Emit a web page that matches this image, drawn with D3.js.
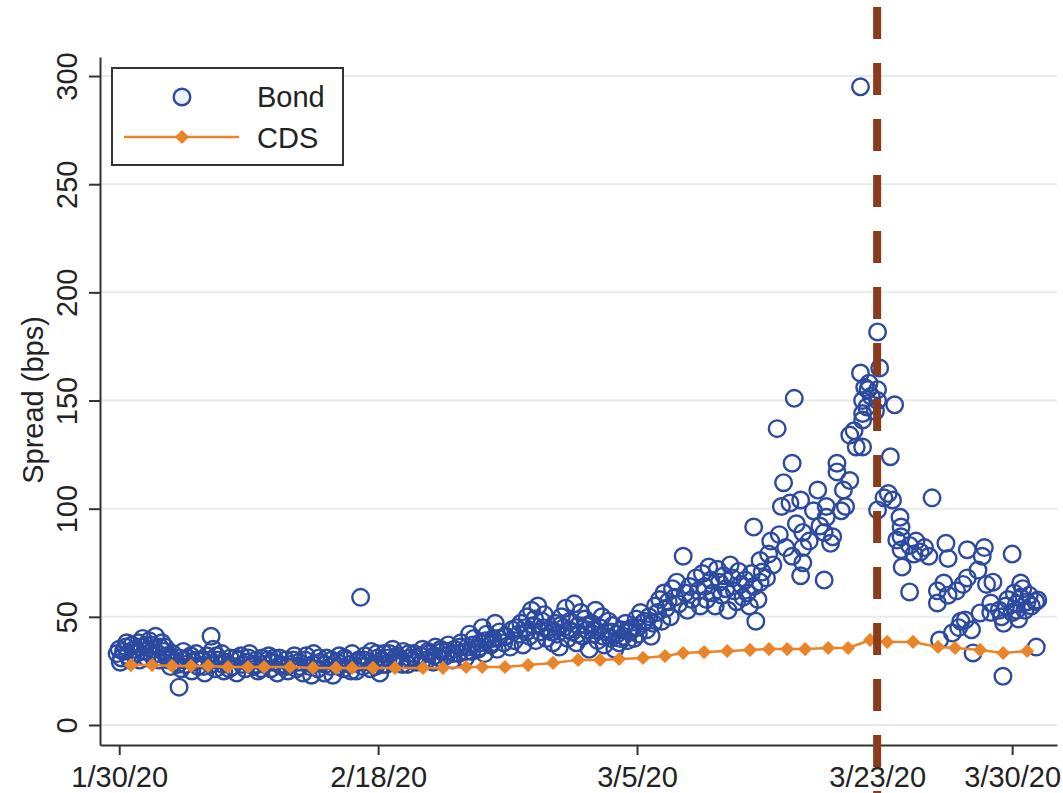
<!DOCTYPE html>
<html><head><meta charset="utf-8">
<script src="https://cdn.jsdelivr.net/npm/d3@7"></script>
<style>body{margin:0;background:#fff}svg{display:block}</style>
</head><body>
<svg id="chart" width="1063" height="793"></svg>
<script>
// x is a trading-day index (0 = 1/30/20)
const tickIndex = [0, 12.12, 24.24, 35.48, 41.8];
const tickLabels = ["1/30/20", "2/18/20", "3/5/20", "3/23/20", "3/30/20"];
const yTicks = [0, 50, 100, 150, 200, 250, 300];
const eventIndex = 35.48; // 3/23/20

const cdsX = [0.55, 1.54, 2.47, 3.36, 4.16, 5.09, 6.03, 6.78, 8.0, 9.07, 10.15, 10.9, 11.88, 12.91, 14.22,
  15.16, 16.24, 16.99, 18.06, 19.14, 20.31, 21.48, 22.51, 23.4, 24.52, 25.55, 26.4, 27.38, 28.46, 29.53,
  30.42, 31.27, 32.11, 33.19, 34.12, 35.15, 35.95, 37.16, 38.33, 39.13, 40.3, 41.38, 42.5];
const cdsY = [27.7, 27.7, 27.3, 27.3, 27.3, 26.8, 26.8, 26.8, 26.8, 26.4, 26.4, 26.4, 26.4, 26.4, 26.4,
  26.4, 26.8, 26.8, 26.8, 27.7, 28.7, 30.1, 30.1, 30.5, 31.0, 31.9, 33.3, 33.7, 34.2, 34.7,
  35.1, 35.1, 35.1, 35.6, 35.6, 39.3, 38.4, 38.4, 36.1, 35.6, 34.7, 33.3, 34.2];

const bondPoints = [
  [-0.1,33],[0.0,35],[0.1,31],[0.2,34],[0.3,36],[0.4,32],[0.5,30],[0.6,37],[0.7,35],[0.8,33],[0.9,38],[1.0,36],
  [1.1,40],[1.2,34],[1.3,31],[1.4,39],[1.5,37],[1.6,35],[1.7,41],[1.8,33],[1.9,36],[2.0,38],[2.1,34],[2.2,32],
  [2.3,30],[2.4,27],[2.5,33],[2.6,29],[2.8,17.5],[2.8,31],[2.9,26],[3.0,34],[3.1,28],[3.2,31],[3.4,25],[3.5,29],
  [3.6,33],[3.7,27],[3.9,30],[4.0,24],[4.1,32],[4.3,41],[4.3,28],[4.4,35],[4.5,26],[4.6,30],[4.8,33],[4.9,25],
  [5.0,29],[5.2,31],[5.3,27],[5.5,24],[5.6,30],[5.7,32],[5.9,26],[6.0,29],[6.1,33],[6.3,27],[6.4,30],[6.5,25],
  [6.7,31],[6.8,28],[7.0,32],[7.1,26],[7.2,29],[7.4,24],[7.5,31],[7.6,27],[7.8,30],[7.9,25],[8.0,28],[8.2,32],
  [8.3,26],[8.4,29],
  [8.6,24],[8.7,30],[8.9,27],[9.0,23],[9.1,33],[9.3,26],[9.4,29],[9.6,24],[9.7,31],[9.9,27],[10.0,23],[10.2,29],
  [10.3,32],[10.5,26],[10.6,30],[10.8,28],[10.9,33],[11.1,25],[11.2,30],[11.3,59],[11.4,27],[11.5,32],[11.7,29],
  [11.8,34],[12.0,27],[12.1,31],[12.2,24],[12.3,30],
  [12.4,33],[12.5,28],[12.6,31],[12.8,35],[12.9,29],[13.0,32],[13.2,30],[13.3,34],[13.5,28],[13.6,31],[13.8,33],
  [13.9,29],[14.1,32],[14.2,35],[14.4,30],[14.5,33],[14.7,29],[14.8,36],[15.0,31],[15.1,34],[15.3,32],[15.4,37],
  [15.6,30],[15.7,35],[15.9,33],[16.0,38],[16.2,31],[16.3,36],[16.4,42],[16.5,34],[16.6,40],[16.8,35],[16.9,38],
  [17.0,45],[17.1,33],[17.2,42],[17.4,37],[17.5,40],[17.6,47],[17.7,35],[17.8,43],[18.0,38],[18.1,41],
  [18.3,36],[18.4,44],[18.5,39],[18.7,42],[18.8,47],[18.9,37],[19.0,45],[19.1,50],[19.2,41],[19.3,53],[19.4,46],
  [19.5,39],[19.6,55],[19.7,43],[19.8,48],[19.9,51],[20.0,40],[20.1,44],[20.3,38],[20.4,47],[20.5,42],[20.6,36],
  [20.7,50],[20.8,45],[20.9,54],[21.0,40],[21.1,48],[21.2,43],[21.3,56],[21.4,38],[21.5,46],[21.6,52],[21.7,41],
  [21.8,49],[21.9,44],[22.0,35],[22.1,47],[22.2,42],[22.3,53],[22.4,39],[22.5,45],[22.6,50],[22.7,37],[22.8,43],
  [22.9,48],[23.0,40],[23.1,46],[23.2,35],[23.3,42],[23.4,38],[23.5,44],[23.6,41],[23.7,47],[23.8,39],[23.9,43],
  [24.0,45],[24.1,40],[24.2,49],[24.3,42],[24.4,52],[24.5,47],
  [24.7,44],[24.8,50],[24.9,41],[25.0,47],[25.1,55],[25.2,52],[25.3,58],[25.4,48],[25.5,61],[25.6,54],[25.7,57],
  [25.8,50],[25.9,63],[26.0,59],[26.1,66],[26.2,56],[26.4,78],[26.5,61],[26.6,53],[26.7,64],[26.8,58],[27.0,68],
  [27.1,62],[27.2,55],
  [27.3,70],[27.4,64],[27.5,58],[27.6,73],[27.7,67],[27.8,61],[27.9,55],[28.0,72],[28.1,66],[28.2,60],[28.3,69],
  [28.4,63],[28.5,53],[28.6,74],[28.7,68],[28.8,62],[28.9,57],[29.0,71],[29.1,65],[29.2,59],[29.3,67],[29.4,61],
  [29.5,55],[29.6,70],[29.7,64],[29.8,48],[29.9,58],[30.0,66],
  [29.7,91.5],[30.0,76],[30.1,70.7],[30.3,68],[30.4,79],[30.5,85],[30.6,74],[30.8,137],[30.9,88],[31.0,101],
  [31.1,112],[31.2,82],[31.4,102.6],[31.5,121],[31.5,78],[31.6,151],[31.7,93],[31.9,104],[31.9,69],[32.0,89],
  [32.0,82],[32.0,75],[32.3,85],[32.5,99],[32.7,108.6],[32.8,92],[33.0,89],[33.0,67],[33.1,96],[33.1,101],
  [33.3,84],[33.4,87],[33.6,117],[33.6,121],[33.8,99],[33.9,108.6],[34.0,101],[34.2,113],[34.2,134],[34.4,136],
  [34.5,128.5],[34.8,128.5],
  [34.7,162.7],[34.7,295],[34.8,141],[34.8,144],[34.8,150],[34.9,156],[35.0,147],[35.05,155],[35.1,158],[35.2,152],
  [35.4,145],[35.5,181.7],[35.5,150],[35.5,155],[35.6,165],[35.5,99.4],[35.8,105],[36.0,107],[36.1,124],[36.2,104],
  [36.3,148],
  [36.4,85.5],[36.55,96],[36.6,91.5],[36.6,87],[36.6,81],[36.65,73],[37.0,83],[37.0,61.5],[37.2,79],[37.3,85],
  [37.5,80],[37.7,82],[37.9,78],[38.05,105],[38.3,62],[38.3,56.4],[38.4,39.3],[38.6,65.6],[38.7,84],[38.8,77],
  [38.8,60],[39.0,42.5],
  [39.2,62],[39.3,45],[39.4,48],[39.5,65],[39.6,48.5],[39.7,68],[39.7,81],[39.9,44],[39.97,33.3],[40.2,71.6],
  [40.3,51.8],[40.4,78],[40.5,82],[40.6,65],[40.8,52],[40.8,56.4],[40.9,66],[41.2,53],[41.3,50],[41.37,22.5],
  [41.4,47],[41.5,55],[41.6,58],[41.8,52],[41.8,79],[41.9,61],[42.0,56],[42.0,53],[42.1,49],[42.2,59],[42.2,65.6],
  [42.3,63],[42.4,53],[42.5,57],[42.6,60],[42.7,55],[42.9,57],[42.93,36],[43.0,57.8]
];

// additional bond quotes filling the dense band (read from the solid blue mass)
const bondDense = [
  [0.05,29],[0.35,38],[0.65,33],[0.95,30],[1.25,37],[1.55,32],[1.85,30],[2.15,36],[2.45,31],[2.75,28],[3.05,30],
  [3.35,32],[3.65,30],[3.95,27],[4.25,30],[4.55,32],[4.85,28],[5.15,26],[5.45,31],[5.75,28],[6.05,31],[6.35,28],
  [6.65,26],[6.95,30],[7.25,31],[7.55,28],[7.85,27],[8.15,30],[8.45,27],[8.75,32],[9.05,28],[9.35,31],[9.65,28],
  [9.95,30],[10.25,27],[10.55,31],[10.85,25],[11.15,29],[11.45,30],[11.75,26],[12.05,33],[12.35,28],[12.65,33],
  [12.95,31],[13.25,28],[13.55,33],[13.85,31],[14.15,29],[14.45,34],[14.75,32],[15.05,35],[15.35,34],[15.65,33],
  [15.95,36],[16.25,34],[16.55,37],[16.85,36],[17.15,39],[17.45,38],[17.75,40],[18.05,41],
  [18.6,45],[19.05,43],[19.45,49],[19.85,45],[20.25,43],[20.65,46],[21.05,44],[21.45,42],[21.85,46],[22.25,44],
  [22.65,41],[23.05,43],[23.45,40],[23.85,44],[24.25,45],[24.6,48]
];

const FONT = "'Liberation Sans', Arial, Helvetica, sans-serif";
const BLUE = "#2c4aa0", ORANGE = "#ea8429", RED = "#8b3a1c", AXIS = "#333";

const svg = d3.select("#chart");
const x = d3.scaleLinear().domain([-0.9, 43.9]).range([100, 1057]);
const y = d3.scaleLinear().domain([-9.25, 308.8]).range([745, 57]);

// gridlines
svg.append("g").selectAll("line").data(yTicks).join("line")
  .attr("x1", x.range()[0]).attr("x2", x.range()[1])
  .attr("y1", d => y(d)).attr("y2", d => y(d))
  .attr("stroke", "#e7eaee").attr("stroke-width", 2);

// bonds
svg.append("g").selectAll("circle").data(bondPoints.concat(bondDense)).join("circle")
  .attr("cx", d => x(d[0])).attr("cy", d => y(d[1])).attr("r", 8.3)
  .attr("fill", "none").attr("stroke", BLUE).attr("stroke-width", 2.4);

// CDS
const cds = cdsX.map((v, i) => [v, cdsY[i]]);
svg.append("path").datum(cds)
  .attr("d", d3.line().x(d => x(d[0])).y(d => y(d[1])))
  .attr("fill", "none").attr("stroke", ORANGE).attr("stroke-width", 2.5);
const diamond = d3.symbol().type(d3.symbolSquare).size(100);
svg.append("g").selectAll("path").data(cds).join("path")
  .attr("d", diamond)
  .attr("transform", d => `translate(${x(d[0])},${y(d[1])}) rotate(45)`)
  .attr("fill", ORANGE);

// axes
const yAxis = svg.append("g").attr("transform", `translate(${x.range()[0]},0)`)
  .call(d3.axisLeft(y).tickValues(yTicks).tickSize(11).tickSizeOuter(0));
yAxis.selectAll(".tick text")
  .attr("transform", "rotate(-90)").attr("x", 0).attr("y", -23).attr("dy", 0)
  .attr("text-anchor", "middle");

const xAxis = svg.append("g").attr("transform", `translate(0,${y.range()[0]})`)
  .call(d3.axisBottom(x).tickValues(tickIndex).tickFormat((d, i) => tickLabels[i]).tickSize(10).tickSizeOuter(0).tickPadding(11));

[yAxis, xAxis].forEach(a => {
  a.select(".domain").attr("stroke", AXIS).attr("stroke-width", 2);
  a.selectAll(".tick line").attr("stroke", AXIS).attr("stroke-width", 2);
  a.selectAll(".tick text").attr("font-family", FONT).attr("font-size", 29).attr("fill", "#222");
});
yAxis.attr("font-size", 29); xAxis.attr("font-size", 29);

svg.append("text").text("Spread (bps)")
  .attr("transform", "translate(43,400) rotate(-90)")
  .attr("text-anchor", "middle").attr("font-family", FONT).attr("font-size", 29).attr("fill", "#222");

// event line
svg.append("line")
  .attr("x1", x(eventIndex)).attr("x2", x(eventIndex)).attr("y1", 7).attr("y2", 800)
  .attr("stroke", RED).attr("stroke-width", 8).attr("stroke-dasharray", "32,24");

// legend
const lg = svg.append("g");
lg.append("rect").attr("x", 112).attr("y", 68).attr("width", 231).attr("height", 97)
  .attr("fill", "#fff").attr("stroke", AXIS).attr("stroke-width", 2);
lg.append("circle").attr("cx", 182).attr("cy", 97).attr("r", 8.3)
  .attr("fill", "#eef1fa").attr("stroke", BLUE).attr("stroke-width", 2.4);
lg.append("text").text("Bond").attr("x", 257).attr("y", 107)
  .attr("font-family", FONT).attr("font-size", 29).attr("fill", "#222");
lg.append("line").attr("x1", 124).attr("x2", 239).attr("y1", 137).attr("y2", 137)
  .attr("stroke", ORANGE).attr("stroke-width", 2.5);
lg.append("path").attr("d", diamond).attr("transform", "translate(182,137) rotate(45)").attr("fill", ORANGE);
lg.append("text").text("CDS").attr("x", 257).attr("y", 148)
  .attr("font-family", FONT).attr("font-size", 29).attr("fill", "#222");
</script>
</body></html>
